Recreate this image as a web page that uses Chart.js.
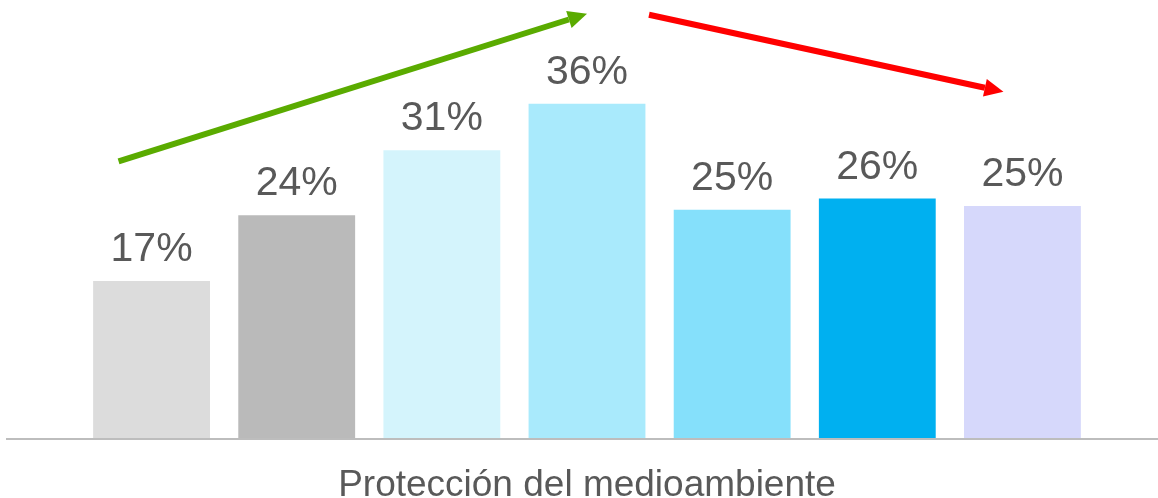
<!DOCTYPE html>
<html>
<head>
<meta charset="utf-8">
<script src="https://cdn.jsdelivr.net/npm/chart.js@4/dist/chart.umd.min.js"></script>
<style>
  html, body { margin: 0; padding: 0; background: #fff; }
  #wrap { width: 1158px; height: 498px; position: relative; }
</style>
</head>
<body>
<div id="wrap"><canvas id="barChart"></canvas></div>
<script>
// data
const categories = ['Protección del medioambiente'];
const seriesNames = ['Serie 1', 'Serie 2', 'Serie 3', 'Serie 4', 'Serie 5', 'Serie 6', 'Serie 7'];
const values = [16.9, 24.0, 31.0, 36.0, 24.6, 25.8, 25.0];
const barColors = ['#dcdcdc', '#bababa', '#d4f4fc', '#a9eafc', '#85e0fb', '#00b0f0', '#d6d8fb'];

// trend arrows: [from bar index, x shift, value] -> [to bar index, x shift, value]
const arrows = [
    { from: [0, -33, 29.8], to: [3, 0, 45.7], color: '#5aab00' },
    { from: [3, 62, 45.6], to: [6, -19, 37.3], color: '#ff0000' }
];

const textColor = '#595959';
const fontFamily = "'Liberation Sans', Arial, sans-serif";

const annotate = {
    id: 'annotate',
    beforeDatasetsDraw(chart) {
        let ctx = chart.ctx;
        let y0 = chart.scales.y.getPixelForValue(0);
        ctx.save();
        ctx.strokeStyle = '#bdbdbd';
        ctx.lineWidth = 2;
        ctx.beginPath();
        ctx.moveTo(6, y0 + 1);
        ctx.lineTo(chart.chartArea.right, y0 + 1);
        ctx.stroke();
        ctx.restore();
    },
    afterDatasetsDraw(chart) {
        let ctx = chart.ctx;
        let yScale = chart.scales.y;
        ctx.save();
        ctx.font = '41px ' + fontFamily;
        ctx.fillStyle = textColor;
        ctx.textAlign = 'center';
        ctx.textBaseline = 'alphabetic';
        chart.data.datasets.forEach((ds, i) => {
            let bar = chart.getDatasetMeta(i).data[0];
            ctx.fillText(Math.round(ds.data[0]) + '%', bar.x, bar.y - 20);
        });

        arrows.forEach(a => {
            let x1 = chart.getDatasetMeta(a.from[0]).data[0].x + a.from[1];
            let y1 = yScale.getPixelForValue(a.from[2]);
            let x2 = chart.getDatasetMeta(a.to[0]).data[0].x + a.to[1];
            let y2 = yScale.getPixelForValue(a.to[2]);
            let ang = Math.atan2(y2 - y1, x2 - x1);
            let headLen = 19, headW = 9;
            let bx = x2 - headLen * Math.cos(ang);
            let by = y2 - headLen * Math.sin(ang);
            ctx.strokeStyle = a.color;
            ctx.fillStyle = a.color;
            ctx.lineWidth = 6;
            ctx.beginPath();
            ctx.moveTo(x1, y1);
            ctx.lineTo(bx, by);
            ctx.stroke();
            ctx.beginPath();
            ctx.moveTo(x2, y2);
            ctx.lineTo(bx + headW * Math.sin(ang), by - headW * Math.cos(ang));
            ctx.lineTo(bx - headW * Math.sin(ang), by + headW * Math.cos(ang));
            ctx.closePath();
            ctx.fill();
        });
        ctx.restore();
    }
};

document.addEventListener('DOMContentLoaded', function () {
    let ctx = document.getElementById('barChart').getContext('2d');
    let chartData = {
        labels: categories,
        datasets: seriesNames.map((name, i) => ({
            label: name,
            data: [values[i]],
            backgroundColor: barColors[i],
            borderWidth: 0,
            categoryPercentage: 0.8897,
            barPercentage: 0.805
        }))
    };

    new Chart(ctx, {
        type: 'bar',
        data: chartData,
        options: {
            responsive: true,
            maintainAspectRatio: false,
            animation: false,
            layout: { padding: { left: 16, right: 0, top: 11, bottom: -35 } },
            plugins: {
                legend: { display: false },
                tooltip: { enabled: false }
            },
            scales: {
                x: {
                    grid: { display: false, drawTicks: false },
                    border: { display: false },
                    ticks: {
                        color: textColor,
                        padding: 29,
                        font: { family: fontFamily, size: 37, lineHeight: 1 }
                    }
                },
                y: {
                    display: false,
                    min: 0,
                    max: 46
                }
            }
        },
        plugins: [annotate]
    });
});
</script>
</body>
</html>
